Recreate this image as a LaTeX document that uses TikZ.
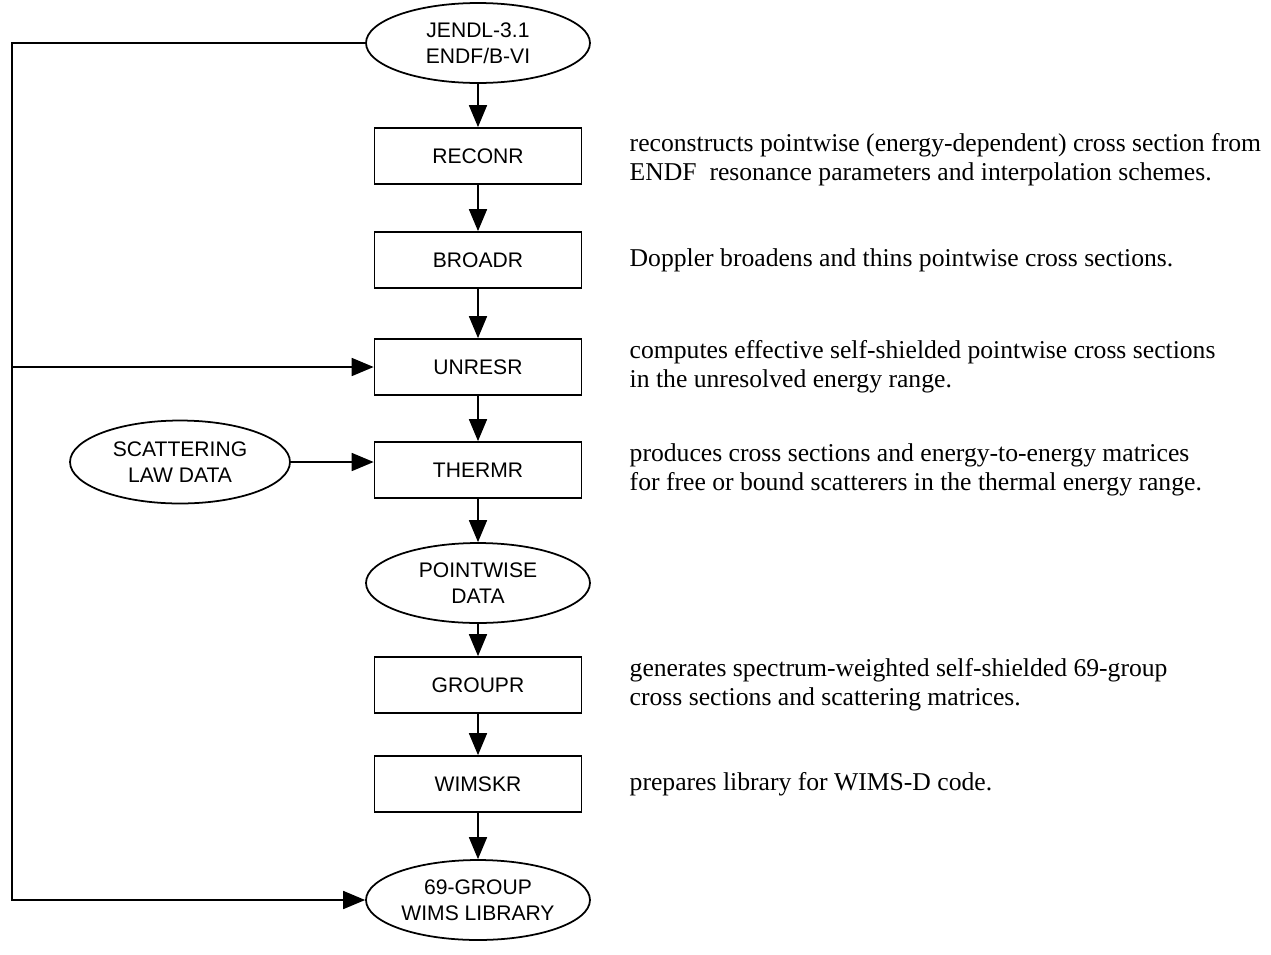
\documentclass[tikz,border=0pt]{standalone}
\usepackage{fontspec}
\setmainfont{Liberation Serif}
\setsansfont{Liberation Sans}
\usetikzlibrary{positioning, shapes.geometric, arrows.meta, calc}

\begin{document}
\begin{tikzpicture}[
    x=0.02cm, y=-0.02cm,
    >={Triangle[length=0.44cm, width=0.36cm]},
    % Styles
    module/.style={ % NJOY module
        rectangle,
        draw,
        line width=1pt,
        minimum width=4.14cm,
        minimum height=1.12cm,
        font=\sffamily\fontsize{12}{15}\selectfont
    },
    data/.style={ % Data file
        ellipse,
        draw,
        line width=1pt,
        minimum width=4.48cm,
        minimum height=1.6cm,
        inner sep=0pt,
        align=center,
        font=\sffamily\fontsize{12}{15}\selectfont
    },
    desc/.style={ % Description text
        inner sep=0pt,
        align=left,
        font=\fontsize{14.6}{16.5}\selectfont
    },
    arrow/.style={
        ->,
        line width=1pt
    }
]
    \useasboundingbox (0,0) rectangle (1271,954);

    % Main column
    \node[data] (jendl) at (478,43) {JENDL-3.1\\ENDF/B-VI};
    \node[module] (reconr) at (478,156) {RECONR};
    \node[module] (broadr) at (478,260) {BROADR};
    \node[module] (unresr) at (478,367) {UNRESR};
    \node[module] (thermr) at (478,470) {THERMR};
    \node[data] (pointwise) at (478,583) {POINTWISE\\DATA};
    \node[module] (groupr) at (478,685) {GROUPR};
    \node[module] (wimskr) at (478,784) {WIMSKR};
    \node[data] (library) at (478,900) {69-GROUP\\WIMS LIBRARY};

    % Scattering law input
    \node[data, minimum width=4.4cm, minimum height=1.66cm] (scatter) at (180,462) {SCATTERING\\LAW DATA};

    % Arrows down the column
    \foreach \A/\B in {jendl/reconr, reconr/broadr, broadr/unresr, unresr/thermr,
                       thermr/pointwise, pointwise/groupr, groupr/wimskr, wimskr/library} {
        \draw[arrow] (\A) -- (\B);
    }

    % Bypass line on the left
    \coordinate (rail) at (12,0 |- jendl.west);
    \draw[arrow] (jendl.west) -- (rail) |- (library.west);
    \draw[arrow] (rail |- unresr.west) -- (unresr.west);
    \draw[arrow] (scatter.east) -- (thermr.west |- scatter.east);

    % Descriptions
    \node[desc, right=0.94cm of reconr, yshift=-0.08cm] (reconrtxt) {reconstructs pointwise (energy-dependent) cross section from\\ENDF\ \ resonance parameters and interpolation schemes.};
    \node[desc, right=0.94cm of broadr] (broadrtxt) {Doppler broadens and thins pointwise cross sections.};
    \node[desc, right=0.94cm of unresr] (unresrtxt) {computes effective self-shielded pointwise cross sections\\in the unresolved energy range.};
    \node[desc, right=0.94cm of thermr] (thermrtxt) {produces cross sections and energy-to-energy matrices\\for free or bound scatterers in the thermal energy range.};
    \node[desc, right=0.94cm of groupr] (grouprtxt) {generates spectrum-weighted self-shielded 69-group\\cross sections and scattering matrices.};
    \node[desc, right=0.94cm of wimskr] (wimskrtxt) {prepares library for WIMS-D code.};

\end{tikzpicture}
\end{document}
